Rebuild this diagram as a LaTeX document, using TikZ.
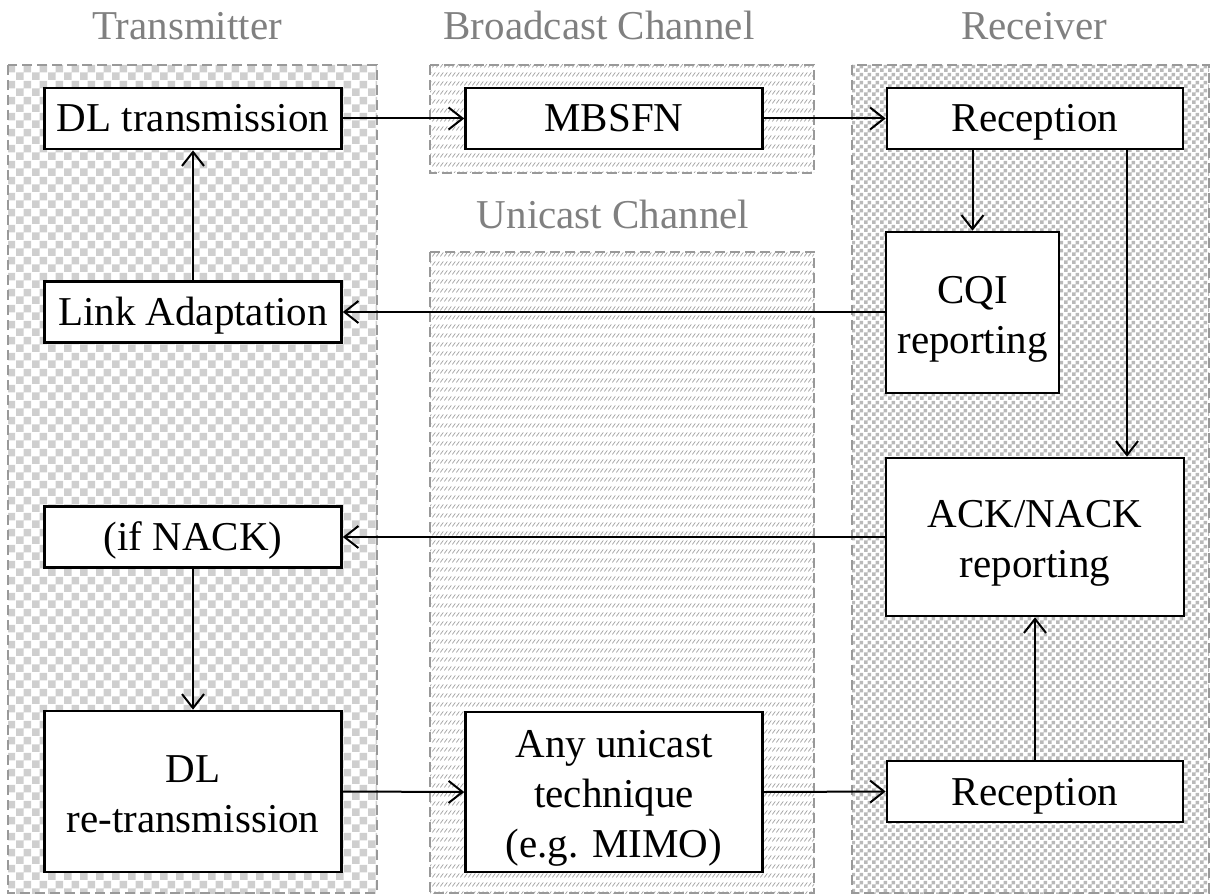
\documentclass[tikz,border=0pt]{standalone}
\usepackage{fontspec}
\setmainfont{Liberation Serif}
\usetikzlibrary{arrows.meta,patterns}

% coarse checkerboard for the transmitter side
\pgfdeclarepatternformonly{bigchecker}{\pgfpointorigin}{\pgfqpoint{16pt}{16pt}}{\pgfqpoint{16pt}{16pt}}{%
  \pgfpathrectangle{\pgfpointorigin}{\pgfqpoint{8pt}{8pt}}%
  \pgfpathrectangle{\pgfqpoint{8pt}{8pt}}{\pgfqpoint{8pt}{8pt}}%
  \pgfusepath{fill}}
% fine checkerboard for the receiver side
\pgfdeclarepatternformonly{smallchecker}{\pgfpointorigin}{\pgfqpoint{8pt}{8pt}}{\pgfqpoint{8pt}{8pt}}{%
  \pgfpathrectangle{\pgfpointorigin}{\pgfqpoint{4pt}{4pt}}%
  \pgfpathrectangle{\pgfqpoint{4pt}{4pt}}{\pgfqpoint{4pt}{4pt}}%
  \pgfusepath{fill}}
% rows of short slanted strokes for the channels
\pgfdeclarepatternformonly{slashrows}{\pgfqpoint{-1pt}{-1pt}}{\pgfqpoint{5pt}{10pt}}{\pgfqpoint{4pt}{9pt}}{%
  \pgfsetlinewidth{0.7pt}%
  \pgfpathmoveto{\pgfqpoint{0.3pt}{0.5pt}}%
  \pgfpathlineto{\pgfqpoint{3.3pt}{4.5pt}}%
  \pgfusepath{stroke}}

\definecolor{titlegray}{RGB}{128,128,128}
% fixed line height and depth so that every text line sits alike
\newcommand\tstrut{\rule[-9pt]{0pt}{37.3pt}}

\tikzset{
  region/.style={draw=gray!80, line width=1.4pt, dash pattern=on 10pt off 5pt},
  box/.style={draw=black, fill=white, line width=2.6pt,
    inner sep=0pt, text height=36pt, text depth=9pt,
    font=\fontsize{41}{48}\selectfont},
  boxtext/.style={align=center, inner sep=0pt,
    font=\fontsize{41}{50}\selectfont},
  title/.style={text=titlegray, anchor=base, inner sep=0pt,
    font=\fontsize{41}{48}\selectfont},
  arr/.style={line width=2pt, -{Straight Barb[length=14pt,width=22pt]}},
}

\begin{document}
\begin{tikzpicture}[x=1pt,y=-1pt]
\useasboundingbox (0,0) rectangle (1212,896);

% shaded areas
\draw[region, pattern=bigchecker, pattern color=gray!38] (8,65) rectangle (377,893);
\draw[region, pattern=slashrows, pattern color=gray!75] (430,65) rectangle (814,173);
\draw[region, pattern=slashrows, pattern color=gray!75] (430,252) rectangle (814,893);
\draw[region, pattern=smallchecker, pattern color=gray!55] (852,65) rectangle (1209,893);

% area titles
\node[title] (ttx) at (187,40) {Transmitter};
\node[title] (tbc) at (599,40) {Broadcast Channel};
\node[title] (tuc) at (613,228) {Unicast Channel};
\node[title] (trx) at (1034,40) {Receiver};

% single-line blocks
\node[box, minimum width=297pt, minimum height=61pt] (dl) at (193,118.5) {DL transmission};
\node[box, minimum width=297pt, minimum height=61pt] (mbsfn) at (614,118.5) {MBSFN};
\node[box, minimum width=296pt, minimum height=61pt] (rec1) at (1035,118.5) {Reception};
\node[box, minimum width=297pt, minimum height=61pt] (link) at (193,312) {Link Adaptation};
\node[box, minimum width=297pt, minimum height=61pt] (ifnack) at (193,537) {(if NACK)};
\node[box, minimum width=296pt, minimum height=61pt] (rec2) at (1035,791.5) {Reception};

% multi-line blocks: frame first, then its lines of text
\node[box, minimum width=173pt, minimum height=161pt] (cqi) at (972.5,312.5) {};
\node[boxtext, yshift=-6pt] (cqi-text) at (cqi.center) {\tstrut CQI\\reporting\tstrut};
\node[box, minimum width=298pt, minimum height=158pt] (ack) at (1035,537) {};
\node[boxtext, yshift=-6pt] (ack-text) at (ack.center) {\tstrut ACK/NACK\\reporting\tstrut};
\node[box, minimum width=297pt, minimum height=161pt] (redl) at (193,791.5) {};
\node[boxtext, yshift=-6pt] (redl-text) at (redl.center) {\tstrut DL\\re-transmission\tstrut};
\node[box, minimum width=297pt, minimum height=160pt] (uni) at (614,792) {};
\node[boxtext, yshift=-6pt] (uni-text) at (uni.center) {\tstrut Any unicast\\technique\\(e.g. MIMO)\tstrut};

% connectors
\draw[arr] (dl.east) -- (mbsfn.west);
\draw[arr] (mbsfn.east) -- (rec1.west);
\draw[arr] (cqi.north |- rec1.south) -- (cqi.north);
\draw[arr] ([xshift=92pt]rec1.south) -- ([xshift=92pt]rec1.south |- ack.north);
\draw[arr] (cqi.west |- link.east) -- (link.east);
\draw[arr] (link.north) -- (dl.south);
\draw[arr] (ack.west |- ifnack.east) -- (ifnack.east);
\draw[arr] (ifnack.south) -- (redl.north);
\draw[arr] (redl.east) -- (uni.west);
\draw[arr] (uni.east) -- (rec2.west);
\draw[arr] (rec2.north) -- (ack.south);
\end{tikzpicture}
\end{document}
